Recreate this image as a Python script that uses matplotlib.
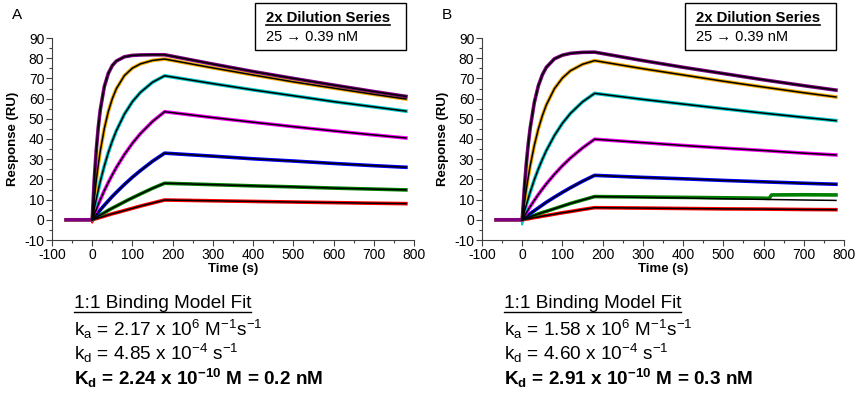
import matplotlib
matplotlib.use("Agg")
import matplotlib.pyplot as plt
from matplotlib.ticker import MultipleLocator
from matplotlib.patches import Rectangle
from matplotlib.lines import Line2D

plt.rcParams['font.family'] = ['Liberation Sans', 'DejaVu Sans']
plt.rcParams['mathtext.fontset'] = 'custom'
plt.rcParams['mathtext.rm'] = 'Liberation Sans'
plt.rcParams['mathtext.it'] = 'Liberation Sans'
plt.rcParams['mathtext.bf'] = 'Liberation Sans:bold'
plt.rcParams['axes.unicode_minus'] = False

# Sensorgram time grid (s)
t_base = [-65, 0]
t_assoc = [0, 5, 10, 15, 20, 30, 40, 50, 60, 80, 100, 120, 150, 180]
t_dissoc = [180, 300, 400, 500, 600, 700, 780]

# 2x dilution series, 25 -> 0.39 nM (top to bottom)
colors = ['#800080', '#F2A900', '#00C8C8', '#FF00FF', '#0000FF', '#008000', '#FF0000']

# Response (RU), panel A
assoc_a = [
    [0, 19.6, 34.4, 45.7, 54.4, 65.9, 72.5, 76.4, 78.6, 80.7, 81.4, 81.6, 81.7, 81.7],
    [0, 10.3, 19.3, 27.2, 34.0, 45.1, 53.6, 60.0, 64.9, 71.4, 75.1, 77.2, 78.9, 79.6],
    [0, 5.3, 10.2, 14.7, 19.0, 26.6, 33.3, 39.1, 44.1, 52.3, 58.5, 63.1, 68.1, 71.3],
    [0, 2.6, 5.1, 7.6, 9.9, 14.4, 18.5, 22.3, 25.9, 32.3, 37.9, 42.7, 48.7, 53.5],
    [0, 1.3, 2.5, 3.7, 4.9, 7.2, 9.4, 11.6, 13.6, 17.5, 21.1, 24.4, 29.0, 33.0],
    [0, 0.6, 1.2, 1.8, 2.4, 3.5, 4.7, 5.8, 6.8, 8.9, 10.9, 12.8, 15.6, 18.1],
    [0, 0.3, 0.6, 0.9, 1.2, 1.8, 2.4, 3.0, 3.5, 4.6, 5.7, 6.8, 8.3, 9.8],
]
dissoc_a = [
    [81.7, 77.1, 73.4, 70.0, 66.7, 63.5, 61.1],
    [79.6, 75.2, 71.7, 68.3, 65.2, 62.1, 59.8],
    [71.3, 67.4, 64.3, 61.4, 58.5, 55.9, 53.8],
    [53.5, 50.6, 48.3, 46.1, 44.0, 42.0, 40.5],
    [33.0, 31.5, 30.2, 29.1, 27.9, 26.8, 26.0],
    [18.1, 17.4, 16.8, 16.3, 15.7, 15.2, 14.8],
    [9.8, 9.4, 9.1, 8.8, 8.5, 8.2, 8.0],
]

# Response (RU), panel B
assoc_b = [
    [0, 15.0, 27.4, 37.5, 45.7, 58.0, 66.3, 71.8, 75.5, 79.7, 81.5, 82.4, 82.9, 83.0],
    [0, 7.8, 14.8, 21.2, 26.9, 36.8, 44.9, 51.5, 56.9, 64.9, 70.2, 73.8, 77.0, 78.8],
    [0, 3.7, 7.3, 10.6, 13.8, 19.8, 25.1, 29.9, 34.3, 41.7, 47.8, 52.7, 58.4, 62.6],
    [0, 1.7, 3.4, 5.0, 6.6, 9.6, 12.5, 15.2, 17.8, 22.5, 26.8, 30.6, 35.6, 39.9],
    [0, 0.8, 1.6, 2.3, 3.1, 4.5, 5.9, 7.3, 8.7, 11.2, 13.6, 15.9, 19.1, 22.0],
    [0, 0.4, 0.7, 1.1, 1.5, 2.2, 2.9, 3.6, 4.2, 5.5, 6.8, 8.1, 9.8, 11.5],
    [0, 0.2, 0.4, 0.5, 0.7, 1.1, 1.4, 1.8, 2.1, 2.8, 3.5, 4.1, 5.1, 6.0],
]
dissoc_b = [
    [83.0, 78.8, 75.5, 72.4, 69.3, 66.4, 64.2],
    [78.8, 74.8, 71.7, 68.6, 65.7, 62.9, 60.8],
    [62.6, 59.6, 57.3, 55.0, 52.8, 50.7, 49.1],
    [39.9, 38.2, 36.8, 35.5, 34.3, 33.0, 32.1],
    [22.0, 21.0, 20.3, 19.5, 18.8, 18.1, 17.6],
    [11.5, 11.1, 10.8, 10.4, 10.1, 9.8, 9.6],
    [6.0, 5.8, 5.6, 5.4, 5.3, 5.1, 5.0],
]
# measured green trace in B steps up late in dissociation
t_green_b = [180, 300, 400, 500, 600, 614, 620, 700, 780]
green_b = [11.5, 11.3, 11.1, 10.9, 10.7, 10.6, 12.3, 12.4, 12.3]

# injection artefact at t = 0
t_spike = [-2, 0, 2]
spike_a = [0, -1.4, 0]
spike_b = [0, -2.3, 0]

fit_text_a = ['k$_\\mathrm{a}$ = 2.17 x 10$^{6}$ M$^{-1}$s$^{-1}$',
              'k$_\\mathrm{d}$ = 4.85 x 10$^{-4}$ s$^{-1}$',
              'K$_\\mathbf{d}$ = 2.24 x 10$^{\\mathbf{-10}}$ M = 0.2 nM']
fit_text_b = ['k$_\\mathrm{a}$ = 1.58 x 10$^{6}$ M$^{-1}$s$^{-1}$',
              'k$_\\mathrm{d}$ = 4.60 x 10$^{-4}$ s$^{-1}$',
              'K$_\\mathbf{d}$ = 2.91 x 10$^{\\mathbf{-10}}$ M = 0.3 nM']

W, H = 859, 400
fig = plt.figure(figsize=(W / 100, H / 100), dpi=100)


def px(x, y):
    # pixel position (from top-left) -> figure fraction
    return x / W, 1 - y / H


def draw_panel(x0, letter, assoc, dissoc, spike_color, spike, green_data=None):
    ax = fig.add_axes([x0 / W, 0.4, 362 / W, 202 / H])
    ax.plot(t_spike, spike, color=spike_color, lw=1.5, zorder=1)
    # measured traces (lowest concentration first so the top one ends up on top)
    for i in reversed(range(len(colors))):
        t_data = t_base + t_assoc[1:] + t_dissoc[1:]
        r_data = [0, 0] + assoc[i][1:] + dissoc[i][1:]
        if green_data is not None and i == 5:
            t_data = t_base + t_assoc[1:] + t_green_b[1:]
            r_data = [0, 0] + assoc[i][1:] + green_data[1:]
        ax.plot(t_data, r_data, color=colors[i], lw=2.6, solid_joinstyle='round', zorder=2)
    # 1:1 model fits
    for i in range(len(colors)):
        ax.plot(t_assoc + t_dissoc[1:], assoc[i] + dissoc[i][1:],
                color='black', lw=1.1, zorder=3)

    ax.set_xlim(-100, 800)
    ax.set_ylim(-10, 90)
    ax.xaxis.set_major_locator(MultipleLocator(100))
    ax.xaxis.set_minor_locator(MultipleLocator(50))
    ax.yaxis.set_major_locator(MultipleLocator(10))
    ax.yaxis.set_minor_locator(MultipleLocator(5))
    ax.tick_params(which='major', direction='out', length=4, width=0.8,
                   labelsize=10, pad=1.5, color='#404040')
    ax.tick_params(which='minor', direction='out', length=2, width=0.8, color='#404040')
    for s in ['top', 'right']:
        ax.spines[s].set_visible(False)
    for s in ['left', 'bottom']:
        ax.spines[s].set_linewidth(0.8)
        ax.spines[s].set_color('#404040')
    ax.set_xlabel('Time (s)', fontsize=9.5, fontweight='bold', labelpad=1)
    ax.set_ylabel('Response (RU)', fontsize=9.5, fontweight='bold', labelpad=4)

    fig.text(*px(x0 - 40, 15), letter, fontsize=11, ha='left', va='center')

    # dilution series box
    bx, by = px(x0 + 203, 50)
    fig.patches.append(Rectangle((bx, by), 151 / W, 47 / H, transform=fig.transFigure,
                                 fill=False, edgecolor='black', lw=1.0))
    title = fig.text(*px(x0 + 214, 18), '2x Dilution Series', fontsize=10.7,
                     fontweight='bold', ha='left', va='center')
    fig.text(*px(x0 + 214, 37), '25 \u2192 0.39 nM', fontsize=10.5, ha='left', va='center')
    return title


title_a = draw_panel(52, 'A', assoc_a, dissoc_a, '#FF0000', spike_a)
title_b = draw_panel(482, 'B', assoc_b, dissoc_b, '#00C8C8', spike_b, green_b)

heads = []
for x0, lines in [(74, fit_text_a), (504, fit_text_b)]:
    heads.append(fig.text(*px(x0, 304), '1:1 Binding Model Fit', fontsize=13.7,
                          ha='left', va='center'))
    fig.text(*px(x0, 329), lines[0], fontsize=13.7, ha='left', va='center')
    fig.text(*px(x0, 353), lines[1], fontsize=13.7, ha='left', va='center')
    fig.text(*px(x0, 378), lines[2], fontsize=13.7, fontweight='bold',
             ha='left', va='center')

# underline the headings
fig.canvas.draw()
renderer = fig.canvas.get_renderer()
for txt, lw in [(title_a, 1.2), (title_b, 1.2), (heads[0], 1.0), (heads[1], 1.0)]:
    bb = txt.get_window_extent(renderer)
    y = bb.y0 + 0.5
    fig.add_artist(Line2D([bb.x0 / W, bb.x1 / W], [y / H, y / H],
                          transform=fig.transFigure, color='black', lw=lw))

fig.savefig('out.png', dpi=100)
